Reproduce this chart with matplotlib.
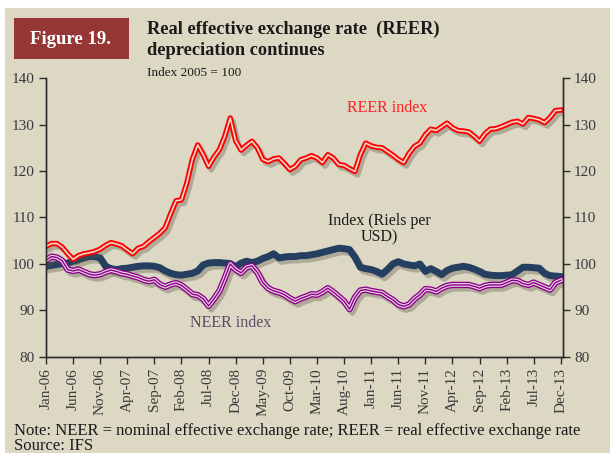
import matplotlib
matplotlib.use("Agg")
import matplotlib.pyplot as plt
import matplotlib.patheffects as pe
from matplotlib.patches import Rectangle
import numpy as np

# monthly index values, Jan-06 .. Dec-13
reer = [103.8, 104.4, 104.4, 103.6, 102.2, 101.0, 101.8, 102.2, 102.4, 102.7,
        103.2, 104.0, 104.6, 104.3, 103.9, 103.0, 102.2, 103.4, 103.8, 104.8,
        105.7, 106.6, 107.8, 110.8, 113.6, 113.8, 117.5, 122.5, 125.6, 123.5,
        121.0, 123.0, 124.6, 127.5, 131.4, 126.5, 124.5, 125.5, 126.4, 125.0,
        122.5, 122.0, 122.6, 122.8, 121.6, 120.3, 121.0, 122.4, 122.8, 123.3,
        122.8, 121.8, 123.5, 122.8, 121.4, 121.2, 120.5, 119.9, 123.5, 126.0,
        125.4, 125.1, 125.0, 124.2, 123.4, 122.5, 121.8, 123.8, 125.3, 126.0,
        127.8, 129.0, 128.7, 129.5, 130.3, 129.3, 128.7, 128.6, 128.4, 127.5,
        126.4, 128.0, 129.0, 129.1, 129.5, 130.0, 130.5, 130.7, 130.1, 131.5,
        131.3, 131.0, 130.4, 131.5, 133.0, 133.1]

neer = [100.8, 101.6, 101.4, 100.7, 98.8, 98.5, 98.8, 98.3, 97.8, 97.6,
        97.8, 98.3, 98.7, 98.4, 98.0, 97.8, 97.4, 97.1, 96.6, 96.3,
        96.6, 95.6, 95.1, 95.6, 95.9, 95.4, 94.5, 93.5, 93.3, 92.5,
        91.0, 92.5, 94.2, 97.0, 100.0, 98.8, 98.1, 99.3, 99.6, 98.2,
        96.0, 94.8, 94.2, 93.9, 93.4, 92.6, 92.0, 92.6, 93.0, 93.5,
        93.4, 94.0, 94.8, 94.0, 93.0, 92.0, 90.3, 92.8, 94.3, 94.5,
        94.2, 94.0, 93.8, 93.0, 92.3, 91.3, 90.9, 91.3, 92.5, 93.4,
        94.6, 94.5, 94.1, 94.8, 95.3, 95.5, 95.5, 95.5, 95.5, 95.2,
        94.8, 95.3, 95.5, 95.5, 95.5, 96.0, 96.5, 96.4, 95.8, 95.5,
        96.0, 95.5, 95.0, 94.5, 96.0, 96.5]

riel_usd = [99.5, 99.7, 99.9, 100.1, 100.2, 100.6, 100.9, 101.3, 101.6, 101.6,
            101.3, 99.5, 99.0, 98.8, 99.0, 99.1, 99.3, 99.5, 99.6, 99.6,
            99.5, 99.2, 98.5, 98.0, 97.7, 97.6, 97.8, 98.0, 98.5, 99.8,
            100.2, 100.3, 100.3, 100.2, 100.1, 99.4, 100.2, 100.6, 100.3, 100.6,
            101.2, 101.6, 102.2, 101.3, 101.5, 101.6, 101.6, 101.8, 101.8, 102.0,
            102.2, 102.5, 102.8, 103.1, 103.4, 103.3, 103.1, 101.5, 99.3, 99.0,
            98.8, 98.4, 97.8, 98.8, 100.0, 100.5, 100.0, 99.8, 99.6, 100.0,
            98.4, 99.0, 98.4, 97.7, 98.6, 99.1, 99.3, 99.5, 99.3, 98.9,
            98.4, 97.8, 97.6, 97.5, 97.5, 97.6, 97.7, 98.5, 99.3, 99.3,
            99.2, 99.1, 98.0, 97.5, 97.4, 97.3]

tick_labels = ["Jan-06", "Jun-06", "Nov-06", "Apr-07", "Sep-07", "Feb-08",
               "Jul-08", "Dec-08", "May-09", "Oct-09", "Mar-10", "Aug-10",
               "Jan-11", "Jun-11", "Nov-11", "Apr-12", "Sep-12", "Feb-13",
               "Jul-13", "Dec-13"]

months = np.arange(len(reer))

plt.rcParams['font.family'] = ['Liberation Serif', 'DejaVu Serif']

W, H = 610, 453
BG = '#DDD8C4'
TXT = '#3a3a3a'

fig = plt.figure(figsize=(W / 100, H / 100), dpi=100)
fig.patch.set_facecolor('white')
fig.patches.append(Rectangle((5 / W, 0), 1, 1 - 8 / H, transform=fig.transFigure,
                             facecolor=BG, edgecolor='none', zorder=-10))
fig.patches.append(Rectangle((14 / W, 1 - 59 / H), 115 / W, 41 / H, transform=fig.transFigure,
                             facecolor='#953735', edgecolor='none', zorder=-9))
fig.text(71 / W, 1 - 39 / H, 'Figure 19.', color='white', fontsize=13.5,
         fontweight='bold', ha='center', va='center')
fig.text(147 / W, 1 - 34 / H, 'Real effective exchange rate  (REER)', color='#1a1a1a',
         fontsize=13.2, fontweight='bold', ha='left', va='baseline')
fig.text(147 / W, 1 - 55 / H, 'depreciation continues', color='#1a1a1a',
         fontsize=13.2, fontweight='bold', ha='left', va='baseline')
fig.text(147 / W, 1 - 76 / H, 'Index 2005 = 100', color='#1a1a1a',
         fontsize=9.5, ha='left', va='baseline')

ax = fig.add_axes([46 / W, 1 - 357 / H, (563 - 46) / W, (357 - 78) / H])
ax.set_facecolor('none')

def shadow(w):
    return [pe.SimpleLineShadow(offset=(2, -2.5), shadow_color='#5a5548', alpha=0.35,
                                linewidth=w), pe.Normal()]

ax.plot(months, riel_usd, color='#243F60', lw=5, solid_joinstyle='round',
        path_effects=shadow(5), zorder=3)
ax.plot(months, neer, color='#8B008B', lw=4.6, path_effects=shadow(4.6), zorder=4)
ax.plot(months, neer, color='#E8D4DE', lw=2.7, zorder=4)
ax.plot(months, neer, color='#8B008B', lw=1.0, zorder=4)
ax.plot(months, reer, color='#FF0000', lw=3.9, path_effects=shadow(3.9), zorder=5)
ax.plot(months, reer, color='#EED6CA', lw=1.2, zorder=5)

ax.text(63, 133.5, 'REER index', color='#FF2020', fontsize=11.5, ha='center', va='center')
ax.text(61.6, 107.5, 'Index (Riels per\nUSD)', color='#1a1a1a', fontsize=11.5,
        ha='center', va='center', linespacing=1.05)
ax.text(34, 87.3, 'NEER index', color='#5E4A66', fontsize=11.5, ha='center', va='center')

ax.set_xlim(0, 95.4)
ax.set_ylim(80, 140)
ax.set_yticks(np.arange(80, 141, 10))
ax.set_xticks(months[::5])
ax.set_xticklabels(tick_labels, rotation=90)

ax2 = ax.twinx()
ax2.set_ylim(80, 140)
ax2.set_yticks(np.arange(80, 141, 10))

for a in (ax, ax2):
    a.spines['top'].set_visible(False)
    for s in ('left', 'right', 'bottom'):
        a.spines[s].set_color('#2b2b2b')
        a.spines[s].set_linewidth(1.0)
    a.tick_params(direction='out', length=5, width=1, color='#2b2b2b',
                  labelsize=11, labelcolor=TXT, pad=3)

fig.text(14 / W, 1 - 435 / H, 'Note: NEER = nominal effective exchange rate; REER = real effective exchange rate',
         color='#1a1a1a', fontsize=12, ha='left', va='baseline')
fig.text(14 / W, 1 - 450 / H, 'Source: IFS', color='#1a1a1a', fontsize=12,
         ha='left', va='baseline')

fig.savefig('out.png', dpi=100, facecolor=fig.get_facecolor())
